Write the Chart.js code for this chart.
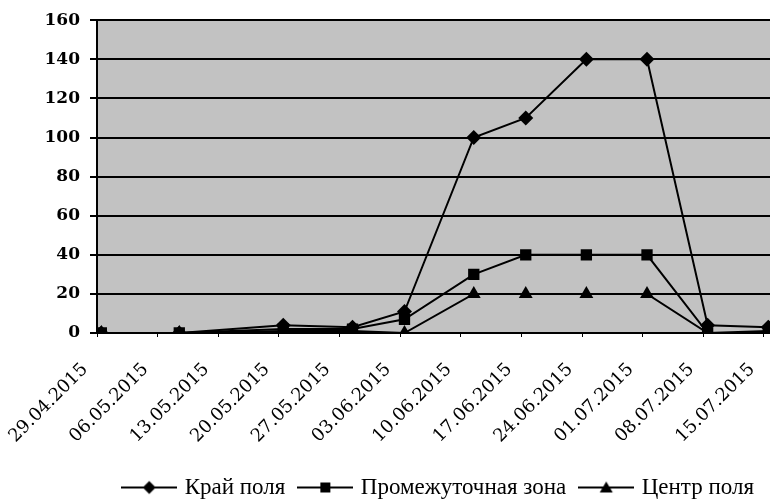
<!DOCTYPE html>
<html>
<head>
<meta charset="utf-8">
<script src="https://cdn.jsdelivr.net/npm/chart.js@4.4.1/dist/chart.umd.min.js"></script>
<style>
  html, body { margin: 0; padding: 0; background: #fff; }
  #wrap { width: 770px; height: 499px; position: relative; overflow: hidden; }
</style>
</head>
<body>
<div id="wrap"><canvas id="chart" width="770" height="499"></canvas></div>
<script>
// dates of the counts
var pointDates = ['29.04.2015', '08.05.2015', '20.05.2015', '28.05.2015', '03.06.2015',
                  '11.06.2015', '17.06.2015', '24.06.2015', '01.07.2015', '08.07.2015', '15.07.2015'];
var kraiPolya = [0, 0, 4, 3, 11, 100, 110, 140, 140, 4, 3];
var promZona = [0, 0, 2, 2, 7, 30, 40, 40, 40, 0, 1];
var centrPolya = [0, 0, 1, 1, 0, 20, 20, 20, 20, 0, 0];
var seriesNames = ['Край поля', 'Промежуточная зона', 'Центр поля'];
var tickDates = ['29.04.2015', '06.05.2015', '13.05.2015', '20.05.2015', '27.05.2015', '03.06.2015',
                 '10.06.2015', '17.06.2015', '24.06.2015', '01.07.2015', '08.07.2015', '15.07.2015'];

function dayOffset(s) {
    var p = s.split('.').map(Number);
    return (Date.UTC(p[2], p[1] - 1, p[0]) - Date.UTC(2015, 3, 29)) / 86400000;
}

function toPoints(values) {
    // excel date axis puts a point in the middle of its day
    return values.map(function(v, i) {
        return { x: dayOffset(pointDates[i]) + 0.5, y: v };
    });
}

function legendIcon(style) {
    var c = document.createElement('canvas');
    c.width = 56; c.height = 16;
    var g = c.getContext('2d');
    g.fillStyle = '#000';
    g.fillRect(0, 7, 56, 2);
    g.beginPath();
    if (style === 'rectRot') {
        g.moveTo(28, 1.5); g.lineTo(34.5, 8); g.lineTo(28, 14.5); g.lineTo(21.5, 8);
    } else if (style === 'rect') {
        g.rect(23, 3, 10, 10);
    } else {
        g.moveTo(28, 2); g.lineTo(34.5, 13); g.lineTo(21.5, 13);
    }
    g.closePath();
    g.fill();
    return c;
}

var plotBackground = {
    id: 'plotBackground',
    beforeDraw: function(chart) {
        var a = chart.chartArea;
        var ctx = chart.ctx;
        ctx.save();
        ctx.fillStyle = '#c2c2c2';
        ctx.fillRect(a.left, a.top, a.right - a.left, a.bottom - a.top);
        ctx.restore();
    }
};

var styles = ['rectRot', 'rect', 'triangle'];
var radii = [7.5, 8, 8];
var allValues = [kraiPolya, promZona, centrPolya];

var datasets = allValues.map(function(vals, i) {
    return {
        label: seriesNames[i],
        data: toPoints(vals),
        borderColor: '#000',
        backgroundColor: '#000',
        borderWidth: 2,
        pointStyle: styles[i],
        pointRadius: radii[i],
        pointBorderWidth: 0,
        pointBackgroundColor: '#000',
        tension: 0
    };
});

new Chart(document.getElementById('chart'), {
    type: 'line',
    data: { datasets: datasets },
    plugins: [plotBackground],
    options: {
        responsive: false,
        animation: false,
        layout: { autoPadding: false, padding: { top: 20, left: 0, right: 0, bottom: -10 } },
        plugins: {
            tooltip: { enabled: false },
            legend: {
                position: 'bottom',
                align: 'end',
                labels: {
                    usePointStyle: true,
                    pointStyleWidth: 48,
                    padding: 16,
                    color: '#000',
                    font: { family: 'Liberation Serif', size: 23 },
                    generateLabels: function(chart) {
                        var items = Chart.defaults.plugins.legend.labels.generateLabels(chart);
                        items.forEach(function(it, i) { it.pointStyle = legendIcon(styles[i]); });
                        return items;
                    }
                }
            }
        },
        scales: {
            x: {
                type: 'linear',
                min: 0,
                max: 77.7,
                grid: { drawOnChartArea: false, drawTicks: true, tickLength: 4, color: '#000', lineWidth: 1 },
                border: { color: '#000', width: 2 },
                afterBuildTicks: function(scale) {
                    scale.ticks = tickDates.map(function(s) { return { value: dayOffset(s) }; });
                },
                afterFit: function(scale) {
                    scale.height = 127;
                    scale.paddingLeft = 0;
                    scale.paddingRight = 0;
                },
                ticks: {
                    autoSkip: false,
                    maxRotation: 45,
                    minRotation: 45,
                    padding: 22,
                    labelOffset: -12,
                    color: '#000',
                    font: { family: 'DejaVu Serif', size: 18 },
                    callback: function(value, index) { return tickDates[index]; }
                }
            },
            y: {
                min: 0,
                max: 160,
                grid: { color: '#000', lineWidth: 2, tickLength: 7 },
                border: { color: '#000', width: 2 },
                afterFit: function(scale) { scale.width = 97; },
                ticks: {
                    stepSize: 20,
                    padding: 10,
                    color: '#000',
                    font: { family: 'DejaVu Serif', size: 17, weight: 'bold' }
                }
            }
        }
    }
});
</script>
</body>
</html>
